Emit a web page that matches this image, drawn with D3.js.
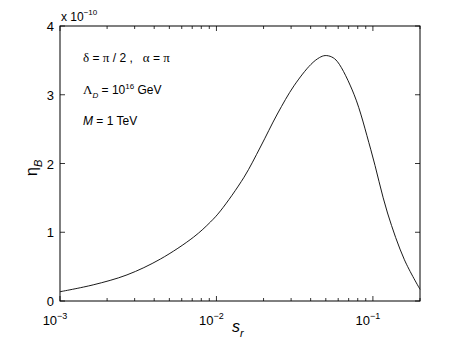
<!DOCTYPE html>
<html>
<head>
<meta charset="utf-8">
<script src="https://cdn.jsdelivr.net/npm/d3@7"></script>
<style>
  body { margin: 0; background: white; }
  text { font-family: "Liberation Sans", Arial, sans-serif; fill: black; }
</style>
</head>
<body>
<div id="chart"></div>
<script>
let width = 463
let height = 348
let margin = {left: 60, right: 43, top: 26, bottom: 47}

// data (eta_B in units of 1e-10)
let sr = [0.001, 0.00163, 0.00268, 0.00438, 0.00715, 0.00916, 0.0106, 0.0150, 0.0191, 0.0245, 0.0313, 0.0401, 0.0455, 0.0495, 0.0545, 0.0594, 0.0759, 0.0970, 0.124, 0.159, 0.2]
let etaB = [0.135, 0.235, 0.38, 0.61, 0.93, 1.15, 1.31, 1.80, 2.24, 2.72, 3.13, 3.44, 3.54, 3.57, 3.55, 3.48, 3.0, 2.20, 1.28, 0.60, 0.17]
let yTicks = [0, 1, 2, 3, 4]
let xTicks = [1e-3, 1e-2, 1e-1]
let xTickExp = ["−3", "−2", "−1"]

let svg = d3.select("#chart").append("svg")
    .attr("width", width)
    .attr("height", height)

let x = d3.scaleLog()
    .domain([0.001, 0.2])
    .range([margin.left, width - margin.right])
let y = d3.scaleLinear()
    .domain([0, 4])
    .range([height - margin.bottom, margin.top])

let x0 = margin.left, x1 = width - margin.right
let y0 = height - margin.bottom, y1 = margin.top

// minor ticks for log axis
let minor = []
for (let e = -3; e <= -1; e++) {
    for (let m = 2; m <= 9; m++) {
        let v = m * Math.pow(10, e)
        if (v <= 0.2) minor.push(v)
    }
}

let ticks = svg.append("g").attr("stroke", "black").attr("stroke-width", 0.8)
ticks.selectAll(".xmaj").data(xTicks).join("g")
    .call(g => g.append("line").attr("x1", d => x(d)).attr("x2", d => x(d)).attr("y1", y0).attr("y2", y0 - 5))
    .call(g => g.append("line").attr("x1", d => x(d)).attr("x2", d => x(d)).attr("y1", y1).attr("y2", y1 + 5))
ticks.selectAll(".xmin").data(minor).join("g")
    .call(g => g.append("line").attr("x1", d => x(d)).attr("x2", d => x(d)).attr("y1", y0).attr("y2", y0 - 3))
    .call(g => g.append("line").attr("x1", d => x(d)).attr("x2", d => x(d)).attr("y1", y1).attr("y2", y1 + 3))
ticks.selectAll(".ymaj").data(yTicks).join("g")
    .call(g => g.append("line").attr("x1", x0).attr("x2", x0 + 5).attr("y1", d => y(d)).attr("y2", d => y(d)))
    .call(g => g.append("line").attr("x1", x1).attr("x2", x1 - 5).attr("y1", d => y(d)).attr("y2", d => y(d)))

// box
svg.append("rect")
    .attr("x", x0).attr("y", y1)
    .attr("width", x1 - x0).attr("height", y0 - y1)
    .attr("fill", "none").attr("stroke", "black").attr("stroke-width", 1)

// tick labels
svg.selectAll(".ylab").data(yTicks).join("text")
    .attr("x", x0 - 6).attr("y", d => y(d) + 5)
    .attr("text-anchor", "end").style("font-size", "13px")
    .text(d => d)

let xl = svg.selectAll(".xlab").data(xTicks).join("text")
    .attr("x", d => x(d) - 5).attr("y", y0 + 24)
    .attr("text-anchor", "middle").style("font-size", "13px")
xl.append("tspan").text("10")
xl.append("tspan").attr("dy", -6).style("font-size", "9px").text((d, i) => xTickExp[i])

// exponent label
let ex = svg.append("text").attr("x", x0 + 1).attr("y", 21).style("font-size", "12px")
ex.append("tspan").text("x 10")
ex.append("tspan").attr("dy", -6).style("font-size", "8px").text("−10")

// axis titles
let xt = svg.append("text").attr("x", 232).attr("y", 332)
    .style("font-size", "16px").style("font-style", "italic")
xt.append("tspan").text("s")
xt.append("tspan").attr("dy", 5).style("font-size", "11px").text("r")

let yt = svg.append("text").attr("transform", "translate(37,176) rotate(-90)")
    .style("font-size", "16px")
yt.append("tspan").text("η")
yt.append("tspan").attr("dy", 5).style("font-size", "11px").style("font-style", "italic").text("B")

// annotations
let fs = "12px"
let gk = "13px"
let a1 = svg.append("text").attr("x", 83).attr("y", 62).style("font-size", fs).attr("xml:space", "preserve")
a1.append("tspan").style("font-family", "Liberation Serif, serif").style("font-size", gk).text("δ")
a1.append("tspan").text(" = ")
a1.append("tspan").style("font-family", "Liberation Serif, serif").style("font-size", gk).text("π")
a1.append("tspan").text(" / 2 ,   ")
a1.append("tspan").style("font-family", "Liberation Serif, serif").style("font-size", gk).text("α")
a1.append("tspan").text(" = ")
a1.append("tspan").style("font-family", "Liberation Serif, serif").style("font-size", gk).text("π")

let a2 = svg.append("text").attr("x", 83).attr("y", 94).style("font-size", fs)
a2.append("tspan").style("font-family", "Liberation Serif, serif").style("font-size", gk).text("Λ")
a2.append("tspan").attr("dy", 4).style("font-size", "8px").style("font-style", "italic").text("D")
a2.append("tspan").attr("dy", -4).text(" = 10")
a2.append("tspan").attr("dy", -5).style("font-size", "8px").text("16")
a2.append("tspan").attr("dy", 5).text(" GeV")

let a3 = svg.append("text").attr("x", 83).attr("y", 125).style("font-size", fs)
a3.append("tspan").style("font-style", "italic").text("M")
a3.append("tspan").text(" = 1 TeV")

// curve
let pts = sr.map((d, i) => [d, etaB[i]])
let line = d3.line()
    .x(d => x(d[0]))
    .y(d => y(d[1]))
    .curve(d3.curveCatmullRom.alpha(0.5))
svg.append("path")
    .datum(pts)
    .attr("d", line)
    .attr("fill", "none")
    .attr("stroke", "black")
    .attr("stroke-width", 0.9)
</script>
</body>
</html>
